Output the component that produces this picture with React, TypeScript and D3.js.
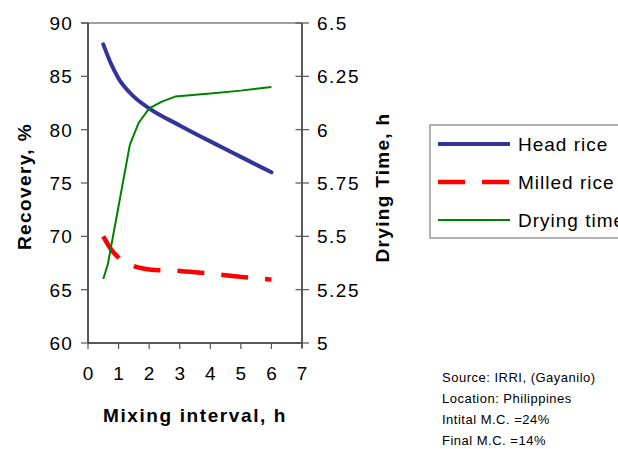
import React from "react";
import * as d3 from "d3";

const xHours = [0.5, 0.75, 1, 1.5, 2, 3, 4, 5, 6];
const headRice = [88, 86.2, 84.8, 83.1, 82.0, 80.4, 78.9, 77.45, 76.0];
const milledRice = [70.0, 68.8, 68.0, 67.2, 66.9, 66.75, 66.5, 66.2, 65.95];
const xDrying = [0.5, 0.65, 1.37, 1.65, 2.0, 2.4, 2.85, 4, 5, 6];
const dryingTime = [5.3, 5.37, 5.93, 6.03, 6.1, 6.13, 6.155, 6.17, 6.183, 6.2];

const xTicks = [0, 1, 2, 3, 4, 5, 6, 7];
const leftTicks = [60, 65, 70, 75, 80, 85, 90];
const rightTicks = [5, 5.25, 5.5, 5.75, 6, 6.25, 6.5];

const legendItems = ["Head rice", "Milled rice", "Drying time"];
const notes = [
  "Source: IRRI, (Gayanilo)",
  "Location: Philippines",
  "Intital M.C. =24%",
  "Final M.C. =14%",
];

const FONT = "'Liberation Sans', Arial, sans-serif";

export default function App() {
  const left = 88, right = 302, top = 23, bottom = 343;
  const x = d3.scaleLinear().domain([0, 7]).range([left, right]);
  const yL = d3.scaleLinear().domain([60, 90]).range([bottom, top]);
  const yR = d3.scaleLinear().domain([5, 6.5]).range([bottom, top]);

  const smooth = d3.line<[number, number]>().x(d => x(d[0])).y(d => yL(d[1])).curve(d3.curveMonotoneX);
  const headPath = smooth(xHours.map((h, i) => [h, headRice[i]]) as [number, number][]) || "";
  const milledPath = smooth(xHours.map((h, i) => [h, milledRice[i]]) as [number, number][]) || "";
  const dryLine = d3.line<[number, number]>().x(d => x(d[0])).y(d => yR(d[1])).curve(d3.curveLinear);
  const dryPath = dryLine(xDrying.map((h, i) => [h, dryingTime[i]]) as [number, number][]) || "";

  const styles = [
    { stroke: "#333399", width: 4, dash: undefined as string | undefined },
    { stroke: "#FF0000", width: 4.5, dash: "27,17" },
    { stroke: "#008000", width: 2, dash: undefined as string | undefined },
  ];

  return (
    <svg width={618} height={449} style={{ position: "absolute", left: 0, top: 0, background: "#fff" }} fontFamily={FONT}>
      <rect x={0} y={0} width={618} height={449} fill="#fff" />
      <line x1={81} x2={302} y1={top} y2={top} stroke="#808080" strokeWidth={1.5} />
      <line x1={left} x2={left} y1={top} y2={bottom} stroke="#222" strokeWidth={1.5} />
      <line x1={right} x2={right} y1={top} y2={bottom + 5} stroke="#222" strokeWidth={1.5} />
      <line x1={left} x2={right} y1={bottom} y2={bottom} stroke="#222" strokeWidth={1.5} />
      {leftTicks.map(t => (
        <g key={"l" + t}>
          <line x1={81} x2={left} y1={yL(t)} y2={yL(t)} stroke="#555" strokeWidth={1.2} />
          <text x={73} y={yL(t)} dy="0.36em" textAnchor="end" fontSize={19} style={{ letterSpacing: "1.2px" }} fill="#000">{t}</text>
        </g>
      ))}
      {rightTicks.map(t => (
        <g key={"r" + t}>
          <line x1={295.5} x2={309} y1={yR(t)} y2={yR(t)} stroke="#555" strokeWidth={1.2} />
          <text x={317} y={yR(t)} dy="0.36em" textAnchor="start" fontSize={19} style={{ letterSpacing: "1.5px" }} fill="#000">{String(t)}</text>
        </g>
      ))}
      {xTicks.map(t => (
        <g key={"x" + t}>
          <line x1={x(t)} x2={x(t)} y1={bottom} y2={bottom + 6} stroke="#555" strokeWidth={1.2} />
          <text x={x(t)} y={380} textAnchor="middle" fontSize={19} fill="#000">{t}</text>
        </g>
      ))}
      <path d={headPath} fill="none" stroke={styles[0].stroke} strokeWidth={styles[0].width} strokeLinecap="round" />
      <path d={milledPath} fill="none" stroke={styles[1].stroke} strokeWidth={styles[1].width} strokeDasharray={styles[1].dash} />
      <path d={dryPath} fill="none" stroke={styles[2].stroke} strokeWidth={styles[2].width} strokeLinejoin="round" />
      <text x={195} y={421.5} textAnchor="middle" fontSize={19} fontWeight="bold" style={{ letterSpacing: "1.6px" }} fill="#000">Mixing interval, h</text>
      <text transform="translate(30.5,186.5) rotate(-90)" textAnchor="middle" fontSize={19} fontWeight="bold" style={{ letterSpacing: "1.4px" }} fill="#000">Recovery, %</text>
      <text transform="translate(389,187.5) rotate(-90)" textAnchor="middle" fontSize={19} fontWeight="bold" style={{ letterSpacing: "1.3px" }} fill="#000">Drying Time, h</text>
      <rect x={430} y={125} width={200} height={113} fill="#fff" stroke="#808080" strokeWidth={1.2} />
      {legendItems.map((name, i) => {
        const yy = 144 + i * 38;
        return (
          <g key={name}>
            <line x1={438} x2={510} y1={yy} y2={yy} stroke={styles[i].stroke} strokeWidth={styles[i].width} strokeDasharray={styles[i].dash} />
            <text x={518} y={yy} dy="0.36em" fontSize={19} style={{ letterSpacing: "1px" }} fill="#000">{name}</text>
          </g>
        );
      })}
      {notes.map((n, i) => (
        <text key={n} x={442} y={381.5 + i * 21.1} fontSize={13} style={{ letterSpacing: "0.5px" }} fill="#000">{n}</text>
      ))}
    </svg>
  );
}
